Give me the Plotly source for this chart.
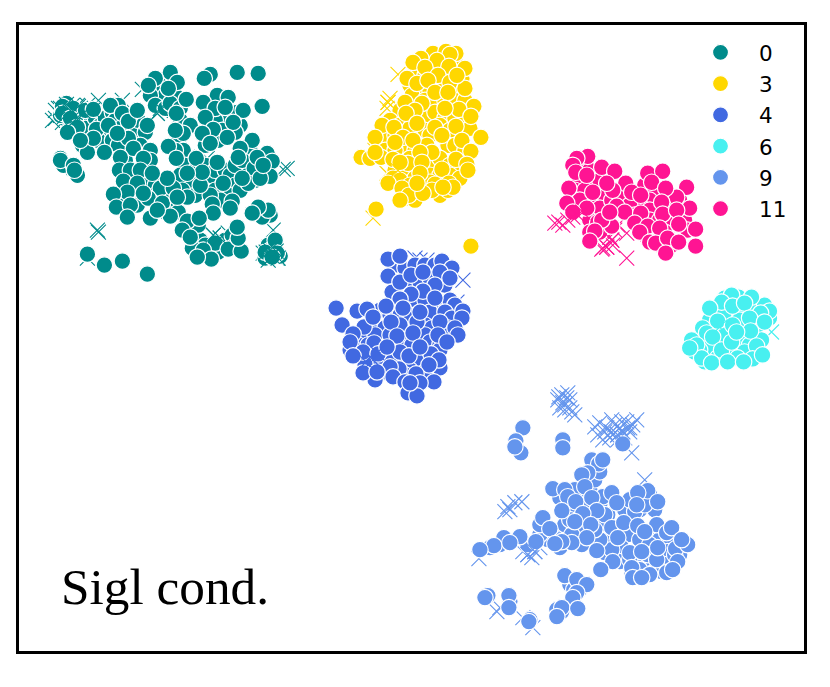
import plotly.graph_objects as go

labels = ["0", "3", "4", "6", "9", "11"]
colors = ["#008B8B", "#FFD700", "#4169E1", "#48F0F0", "#6495ED", "#FF1493"]

# points that lie underneath in each cloud
u0_x = [60,66,72,80,88,75,85,95,100,105,112,115,105,98,112,120,125,135,138,130,145,140,118,150,145,150,125,125,135,128,120,135,145,155,118,125,137,
        160,165,150,175,155,165,170,180,180,190,178,183,175,185,195,205,210,190,180,195,182,165,172,165,178,155,160,215,225,230,235,215,228,240,220,210,
        210,220,225,240,215,208,222,235,218,205,245,250,262,245,265,255,250,235,242,
        195,200,205,192,210,218,225,232,235,215,198,262,258,270,268,270,280,270,265,275,72,75,60,63,82]
u0_y = [115,103,112,115,120,120,128,118,125,118,112,120,135,140,140,128,145,130,120,115,132,145,145,150,165,160,160,175,178,186,195,195,180,185,200,210,205,
        85,95,95,95,105,108,103,108,120,125,140,150,150,165,170,165,175,180,175,195,190,195,205,212,212,195,188,170,170,175,185,190,195,190,200,195,
        105,115,120,125,120,130,130,132,140,145,155,165,165,170,170,180,150,165,160,
        235,240,245,248,250,252,240,235,245,243,225,210,212,215,245,250,256,258,258,255,170,172,158,165,145]
u3_x = [440,430,445,455,420,415,425,435,445,455,462,410,420,430,440,455,460,412,425,435,445,455,465,400,412,425,435,445,455,465,390,400,410,425,440,450,470,385,395,405,415,430,448,455,465,385,395,410,430,440,450,460,395,405,415,430,440,450,460,393,400,410,420,430,440,405,415,448]
u3_y = [55,60,60,60,65,72,75,70,72,72,78,85,90,90,85,88,92,95,100,100,100,100,100,110,118,115,112,118,118,120,120,125,128,130,125,130,128,135,135,145,150,135,145,145,150,150,150,158,162,158,165,170,170,175,178,175,175,175,178,178,180,185,188,182,195,198,200,190]
u4_x = [395,405,415,425,435,445,395,410,420,430,445,392,402,415,425,440,450,455,380,390,400,410,430,445,452,375,385,400,425,432,448,365,375,390,405,425,445,358,368,380,392,412,430,440,355,370,380,392,405,418,440,350,365,385,395,410,425,440,375,410,415,405]
u4_y = [265,268,265,265,265,270,285,285,282,278,285,292,305,300,300,305,300,305,310,315,315,315,312,312,318,325,328,325,325,328,328,335,335,335,340,335,335,345,345,350,355,345,342,345,350,362,362,362,365,362,350,350,365,372,375,370,372,368,380,390,385,375]
u6_x = [725,738,715,725,740,755,765,710,722,740,758,770,700,715,725,742,750,762,695,708,735,745,700,718,738,705]
u6_y = [298,305,310,312,312,307,305,320,328,320,325,318,338,345,335,338,345,340,352,348,352,352,350,358,358,362]
u9_x = [620,628,640,650,660,670,680,668,650,640,622,610,605,620,630,650,665,640,655,612,648,675,632,662,600,608,600,
        560,570,580,590,595,590,600,575,580,585,565,572,595,605,595,600,575,585,570,582,560,548,540,625,640,635,650,655,645,528,500,490,
        570,580,572,562,574,557,510,488,530]
u9_y = [530,535,540,535,540,540,555,552,545,560,548,540,553,562,560,565,565,570,572,550,555,555,572,572,525,515,540,
        498,510,495,490,480,505,505,530,525,530,525,535,530,515,468,472,490,505,520,545,548,540,535,510,510,512,495,510,505,545,545,548,
        585,590,605,612,590,610,602,596,620]
u11_x = [580,590,595,580,575,585,600,570,580,595,605,600,590,600,590,612,620,645,655,650,640,670,680,668,650,630,635,650,660,672,685,688,655,665,640,672,660,645,598,608,612]
u11_y = [165,170,180,180,190,190,180,200,200,205,195,208,220,232,232,200,195,185,190,200,205,195,200,205,210,205,215,220,220,222,220,230,235,232,222,245,245,235,222,218,226]

# points that lie on top in each cloud
c0_x = [170,155,148,177,168,186,210,204,237,258,262,217,228,203,215,237,243,225,205,233,213,202,227,210,252,240,238,267,272,254,270,248,260,242,257,263,
        176,147,183,175,168,176,196,217,223,200,202,187,173,167,187,212,232,230,213,148,162,170,150,157,177,187,199,182,190,203,211,197,228,241,238,237,262,268,258,252,275,265,277,272,87,104,122,147,
        62,73,62,70,85,93,77,67,96,87,104,108,118,110,122,128,137,128,117,93,133,120,143,119,130,140,123,137,127,113,116,130,127,143,152,60,73,77,74,80]
c0_y = [72,78,85,82,88,99,74,78,72,73,106,95,97,102,108,112,110,107,117,122,129,133,137,143,140,148,157,153,161,168,176,183,178,178,157,165,
        113,125,133,130,146,158,158,162,183,185,172,173,188,178,197,204,201,208,213,198,203,216,218,210,197,221,218,230,237,250,259,257,249,251,238,227,217,210,207,213,240,252,253,257,254,265,261,274,
        106,108,113,118,110,109,127,132,129,152,152,125,105,105,113,121,110,138,133,138,148,157,158,170,170,170,181,183,192,194,207,205,217,193,173,160,165,175,170,140]
x0_x = [52,98,122,142,157,173,160,287,283,98,97,87,273,213,220,228,187,207,157,213,277,263,270,55,62,77,87,58,60,55,68,72,80]
x0_y = [120,100,100,89,113,97,110,168,169,232,230,258,230,235,238,233,157,158,187,182,258,253,255,110,122,105,105,108,115,118,110,105,108]

c3_x = [433,446,456,450,421,413,437,449,465,425,407,417,438,450,465,457,428,435,448,405,422,415,406,474,459,471,445,382,394,417,435,456,375,403,395,442,462,481,427,413,471,432,361,370,381,375,393,420,456,467,468,408,422,420,442,400,388,435,449,453,432,443,402,409,423,400,417,376,471]
c3_y = [53,51,53,54,58,62,60,66,68,67,78,83,75,82,88,75,80,92,92,102,103,110,113,106,109,116,108,125,127,123,127,126,137,137,142,135,140,137,145,140,151,152,157,158,157,152,159,152,159,164,170,163,162,173,169,162,183,184,183,187,190,187,188,195,193,200,183,209,246]
x3_x = [398,390,387,388,387,398,405,375,373,437,405]
x3_y = [74,98,108,102,173,170,183,150,218,95,155]

c4_x = [388,400,442,452,440,388,400,411,423,435,450,423,411,400,386,435,336,357,367,342,364,391,417,440,463,462,455,458,353,397,413,438,373,420,403,447,350,374,363,353,378,400,409,431,420,387,439,429,399,390,363,377,393,416,434,405,420,408,417,410]
c4_y = [259,256,261,268,272,276,282,275,272,285,278,291,294,299,306,298,308,311,309,325,327,322,322,322,311,318,328,335,334,336,333,335,317,312,308,342,342,343,352,356,354,352,356,354,347,347,360,365,369,367,373,372,377,374,382,382,383,393,396,383]
x4_x = [420,415,427,463,457,403]
x4_y = [260,258,260,280,302,292]

c6_x = [739,752,732,722,733,745,710,770,761,718,750,733,765,703,751,707,692,713,757,697,722,732,702,712,728,753,744,763,690,737]
c6_y = [297,297,295,302,306,303,308,311,313,321,318,325,322,328,331,333,340,337,346,345,350,342,358,363,362,359,362,355,348,332]
x6_x = [772,720]
x6_y = [332,327]

c9_x = [523,516,521,515,563,563,623,592,599,603,588,582,585,553,565,568,576,603,612,592,648,658,630,638,637,597,583,562,617,575,591,540,543,550,612,624,638,657,667,672,618,645,587,572,562,555,536,520,504,494,480,510,597,613,630,642,601,632,657,676,688,682,658,678,650,633,667,673,642,565,577,587,577,573,562,578,557,485,509,509,529]
c9_y = [428,441,453,447,440,448,444,460,464,460,473,475,487,489,490,497,502,497,493,498,491,502,500,493,505,511,514,511,503,522,525,525,518,529,528,523,526,525,533,528,538,532,538,543,542,544,542,537,538,546,550,543,551,562,553,552,570,568,560,549,545,540,548,562,575,578,573,570,578,576,580,585,593,598,608,609,617,598,596,608,622]
x9_x = [559,567,563,570,575,560,568,600,607,613,620,627,633,623,630,603,610,618,637,595,632,645,510,515,522,508,505,528,535,540,532,523,479,500,497,523,533,560,565,558,562,570,565,572,615,622,628,618,625,612,605,598]
x9_y = [397,398,403,408,415,408,393,423,428,435,428,422,425,432,432,440,438,435,420,427,453,480,510,503,502,507,512,555,552,548,558,552,559,608,612,618,628,532,405,400,395,400,410,412,425,422,428,440,438,420,432,435]

c11_x = [588,577,573,602,615,576,587,626,569,593,613,632,641,648,663,652,687,677,666,662,690,567,587,617,625,641,663,677,602,595,590,635,648,679,696,660,640,650,656,668,679,696,666,607,610,573]
c11_y = [156,158,165,167,171,172,175,183,188,192,190,192,195,173,171,182,187,197,188,202,208,203,208,206,212,213,214,210,220,231,241,223,226,224,229,228,232,242,243,238,242,246,253,183,212,212]
x11_x = [559,555,563,627,602,612,607,615,627,618,610,603,613]
x11_y = [222,223,225,258,249,240,247,230,233,225,237,248,245]

# crosses that lie over the circles
t0_x = [60,66,72,78,84,64,70,76,92,266,272,278,270,276,268,157,160,213,220]
t0_y = [108,104,112,106,112,116,120,118,110,252,256,258,250,251,260,113,108,235,238]
t3_x = [388,398]
t3_y = [102,170]
t4_x = [373,377,370,366]
t4_y = [360,353,357,362]
t6_x = [720]
t6_y = [327]
t9_x = [623,630,618,612,528,535]
t9_y = [432,428,435,432,555,552]
t11_x = [578,583,573,568,612,607]
t11_y = [215,212,217,220,240,247]

note_text = "Sigl cond."

circles = [(u0_x + c0_x, u0_y + c0_y), (u3_x + c3_x, u3_y + c3_y), (u4_x + c4_x, u4_y + c4_y),
           (u6_x + c6_x, u6_y + c6_y), (u9_x + c9_x, u9_y + c9_y), (u11_x + c11_x, u11_y + c11_y)]
crosses = [(x0_x, x0_y), (x3_x, x3_y), (x4_x, x4_y), (x6_x, x6_y), (x9_x, x9_y), (x11_x, x11_y)]
top_crosses = [(t0_x, t0_y), (t3_x, t3_y), (t4_x, t4_y), (t6_x, t6_y), (t9_x, t9_y), (t11_x, t11_y)]

fig = go.Figure()
for name, col, (cx, cy), (xx, xy), (tx, ty) in zip(labels, colors, circles, crosses, top_crosses):
    x_marker = dict(symbol="x-thin", size=15, color=col, line=dict(color=col, width=1.1))
    fig.add_trace(go.Scatter(x=xx, y=xy, mode="markers", showlegend=False, legendgroup=name, marker=x_marker))
    fig.add_trace(go.Scatter(x=cx, y=cy, mode="markers", name=name, legendgroup=name,
                             marker=dict(symbol="circle", size=16.5, color=col, line=dict(color="white", width=1.2))))
    fig.add_trace(go.Scatter(x=tx, y=ty, mode="markers", showlegend=False, legendgroup=name, marker=x_marker))

axis = dict(showgrid=False, zeroline=False, showticklabels=False, ticks="", showline=True,
            mirror=True, linecolor="black", linewidth=2.5)
fig.update_xaxes(range=[18.5, 804.5], **axis)
fig.update_yaxes(range=[651.5, 24.5], **axis)
fig.add_annotation(text=note_text, xref="x", yref="y", x=58.5, y=587, xanchor="left", yanchor="middle",
                   showarrow=False, font=dict(family="Liberation Serif", size=51.3, color="black"))
fig.update_layout(
    width=814, height=671, margin=dict(l=10.5, r=17.5, t=16.5, b=27.5, autoexpand=False),
    paper_bgcolor="white", plot_bgcolor="white",
    font=dict(family="DejaVu Sans", color="black"),
    legend=dict(x=0.8446, y=0.989, xanchor="left", yanchor="top", bgcolor="rgba(0,0,0,0)", borderwidth=0,
                font=dict(size=21.5), tracegroupgap=0.3, itemsizing="trace", itemwidth=67),
)
fig.write_html("out.html")
